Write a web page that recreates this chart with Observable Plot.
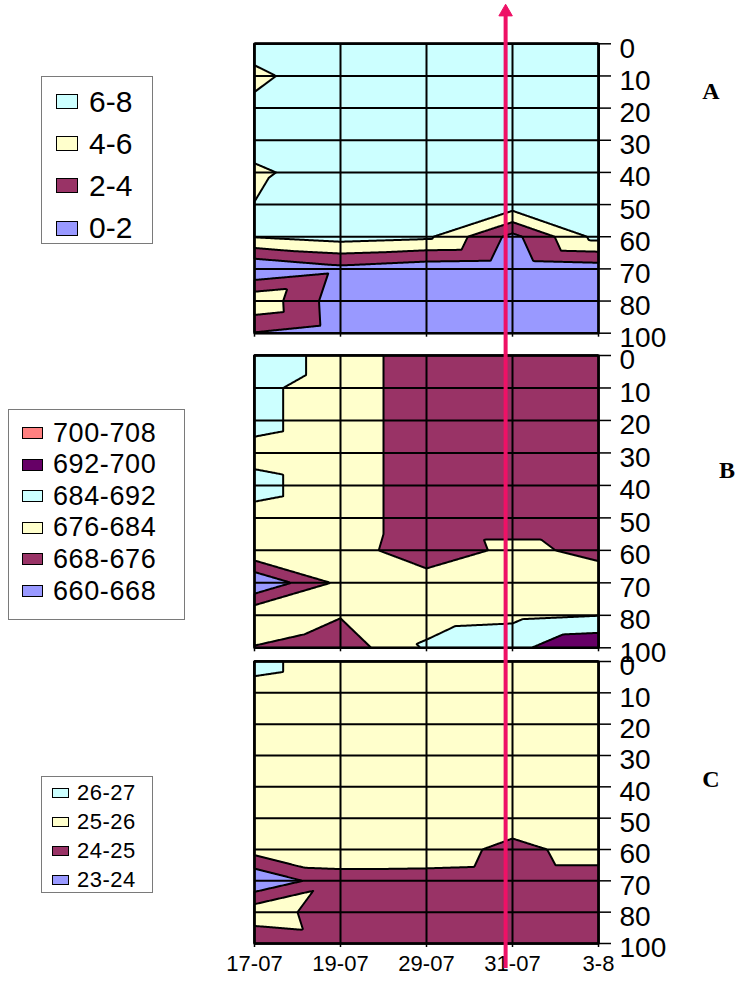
<!DOCTYPE html>
<html><head><meta charset="utf-8">
<script src="https://cdn.jsdelivr.net/npm/d3@7"></script>
<script src="https://cdn.jsdelivr.net/npm/@observablehq/plot@0.6"></script>
<style>
body{margin:0;background:#fff;}
#wrap{position:relative;width:740px;height:986px;overflow:hidden;font-family:"Liberation Sans",Arial,sans-serif;background:#fff;}
#wrap svg{position:absolute;left:0;top:0;}
.legend{position:absolute;border:1.5px solid #7a7a7a;background:#fff;box-sizing:border-box;}
.sw{position:absolute;border:1.4px solid #000;box-sizing:border-box;}
.lt{position:absolute;white-space:nowrap;color:#000;}
.letter{position:absolute;width:40px;text-align:center;font-family:"Liberation Serif","Times New Roman",serif;font-weight:bold;line-height:1;color:#000;}
</style></head>
<body><div id="wrap"></div>
<script>
// ---- categories / tick labels ----
const dates = ["17-07", "19-07", "29-07", "31-07", "3-8"];
const depths = ["0", "10", "20", "30", "40", "50", "60", "70", "80", "100"];

// ---- panel A (rows = depth, cols = dates) ----
const bandsA = ["6-8", "4-6", "2-4", "0-2"];
const thresholdsA = [0, 2, 4, 6];
const gridA = [
  [6.6, 7.0, 7.0, 7.0, 7.0],
  [5.7, 6.9, 7.0, 7.0, 7.0],
  [6.3, 7.0, 7.0, 7.0, 7.0],
  [6.5, 7.0, 7.0, 7.0, 7.0],
  [5.8, 6.6, 7.0, 7.0, 7.0],
  [6.02, 7.0, 7.0, 7.1, 7.0],
  [6.1, 6.85, 6.4, 1.4, 6.7],
  [0.1, 1.4, 0.7, 0.5, 0.9],
  [5.6, 0.8, 0.5, 0.5, 0.5],
  [1.9, 0.9, 0.5, 0.5, 0.5]
];

// ---- panel B ----
const bandsB = ["700-708", "692-700", "684-692", "676-684", "668-676", "660-668"];
const thresholdsB = [660, 668, 676, 684, 692, 700];
const gridB = [
  [690, 680, 672, 672, 672],
  [686, 680, 672, 672, 672],
  [686, 680, 672, 672, 672],
  [682, 680, 672, 672, 672],
  [686, 680, 672, 672, 672],
  [682, 680, 672, 672, 672],
  [683, 680, 671, 678, 674],
  [660.5, 678, 680, 680, 680],
  [683, 676.5, 681, 682, 683.8],
  [675.5, 671, 685, 690, 699]
];

// ---- panel C ----
const bandsC = ["26-27", "25-26", "24-25", "23-24"];
const thresholdsC = [23, 24, 25, 26];
const gridC = [
  [26.3, 25.4, 25.5, 25.5, 25.5],
  [25.66, 25.4, 25.5, 25.5, 25.5],
  [25.5, 25.5, 25.5, 25.5, 25.5],
  [25.5, 25.5, 25.5, 25.5, 25.5],
  [25.5, 25.5, 25.5, 25.5, 25.5],
  [25.5, 25.5, 25.5, 25.5, 25.5],
  [25.42, 25.5, 25.5, 24.73, 25.4],
  [23.1, 24.7, 24.67, 24.6, 24.6],
  [25.65, 24.35, 24.5, 24.5, 24.5],
  [24.17, 24.5, 24.5, 24.5, 24.5]
];

// palette (low band -> high band)
const colors4 = ["#9999FF", "#993366", "#FFFFCC", "#CCFFFF"];
const colors6 = ["#9999FF", "#993366", "#FFFFCC", "#CCFFFF", "#660066", "#FF8080"];

// annotation arrow (x in date-index units, y in page pixels)
const eventLine = [{x: 2.92, y1: 968, y2: 13, head: 11.5}];
const arrowColor = "#EE1166";

// ---- Excel-like surface interpolation: each cell split into two triangles
// along the diagonal with the larger sum ----
function interp(grid) {
  const nx = grid[0].length - 1, ny = grid.length - 1;
  return (x, y) => {
    const i = Math.max(0, Math.min(nx - 1, Math.floor(x)));
    const j = Math.max(0, Math.min(ny - 1, Math.floor(y)));
    const u = x - i, v = y - j;
    const a = grid[j][i], b = grid[j][i + 1], c = grid[j + 1][i], d = grid[j + 1][i + 1];
    if (a + d >= b + c) { // diagonal top-left -> bottom-right
      if (u >= v) return a + (b - a) * u + (d - b) * v;
      return a + (c - a) * v + (d - c) * u;
    } else { // diagonal bottom-left -> top-right
      if (u + v <= 1) return a + (b - a) * u + (c - a) * v;
      return d + (c - d) * (1 - u) + (b - d) * (1 - v);
    }
  };
}

const W = 740, H = 986;
const colIdx = dates.map((d, i) => i);
const rowIdx = depths.map((d, i) => i);

function panel(grid, thresholds, colors, top, bottom, showDates) {
  const marks = [
    Plot.contour({
      value: interp(grid), fill: "value",
      x1: 0, x2: dates.length - 1, y1: 0, y2: depths.length - 1,
      thresholds, stroke: "black", strokeWidth: 2, strokeLinejoin: "round", pixelSize: 1
    }),
    Plot.gridX(colIdx, {stroke: "black", strokeOpacity: 1, strokeWidth: 2}),
    Plot.gridY(rowIdx, {stroke: "black", strokeOpacity: 1, strokeWidth: 2}),
    Plot.frame({stroke: "black", strokeWidth: 2}),
    Plot.axisY(rowIdx, {anchor: "right", tickSize: 12, strokeWidth: 1.5, tickFormat: () => ""}),
    Plot.text(rowIdx, {y: d => d, frameAnchor: "right", dx: 21, dy: 5, textAnchor: "start",
      lineAnchor: "middle", text: i => depths[i], fontSize: 28, fill: "black"}),
    Plot.axisX(colIdx, {anchor: "bottom", tickSize: 4, strokeWidth: 1.5, tickFormat: () => ""})
  ];
  if (showDates) marks.push(
    Plot.text(colIdx, {x: d => d, frameAnchor: "bottom", dy: 12, lineAnchor: "top",
      text: i => dates[i], fontSize: 22, fill: "black"})
  );
  return Plot.plot({
    width: W, height: H,
    marginLeft: 254, marginRight: 142, marginTop: top, marginBottom: H - bottom,
    style: {background: "transparent", fontFamily: "'Liberation Sans', Arial, sans-serif", overflow: "visible"},
    x: {domain: [0, dates.length - 1], axis: null},
    y: {domain: [0, depths.length - 1], reverse: true, axis: null},
    color: {type: "ordinal", domain: thresholds, range: colors},
    marks
  });
}

const wrap = document.getElementById("wrap");
wrap.appendChild(panel(gridA, thresholdsA, colors4, 43.3, 332.7, false));
wrap.appendChild(panel(gridB, thresholdsB, colors6, 355, 647.3, false));
wrap.appendChild(panel(gridC, thresholdsC, colors4, 661, 943, true));

// overlay with the vertical marker arrow
wrap.appendChild(Plot.plot({
  width: W, height: H,
  marginLeft: 254, marginRight: 142, marginTop: 0, marginBottom: 0,
  style: {background: "transparent", overflow: "visible"},
  x: {domain: [0, dates.length - 1], axis: null},
  y: {domain: [0, H], range: [0, H], axis: null},
  marks: [
    Plot.ruleX(eventLine, {x: "x", y1: "y1", y2: "y2", stroke: arrowColor, strokeWidth: 4}),
    Plot.dot(eventLine, {x: "x", y: "head", symbol: "triangle", r: 5, fill: arrowColor, stroke: arrowColor, strokeWidth: 1})
  ]
}));

// ---- legends ----
function legend(labels, cols, cfg) {
  const box = document.createElement("div");
  box.className = "legend";
  Object.assign(box.style, {left: cfg.left + "px", top: cfg.top + "px", width: cfg.w + "px", height: cfg.h + "px"});
  labels.forEach((lab, k) => {
    const cy = cfg.y0 + k * cfg.dy;
    const sw = document.createElement("div");
    sw.className = "sw";
    Object.assign(sw.style, {left: cfg.sx + "px", top: (cy - cfg.sh / 2) + "px", width: cfg.sw + "px", height: cfg.sh + "px", background: cols[cols.length - 1 - k]});
    box.appendChild(sw);
    const t = document.createElement("div");
    t.className = "lt";
    t.textContent = lab;
    Object.assign(t.style, {left: cfg.tx + "px", top: (cy - cfg.fs / 2) + "px", fontSize: cfg.fs + "px", lineHeight: cfg.fs + "px", letterSpacing: (cfg.ls || 0) + "px"});
    box.appendChild(t);
  });
  wrap.appendChild(box);
}
legend(bandsA, colors4, {left: 41, top: 76, w: 112, h: 168, sx: 14, sw: 22, sh: 15, tx: 47, fs: 30, y0: 24.5, dy: 42.2});
legend(bandsB, colors6, {left: 8, top: 409, w: 177, h: 211, sx: 13, sw: 21, sh: 12, tx: 44, fs: 27, ls: 0.6, y0: 23, dy: 31.6});
legend(bandsC, colors4, {left: 41, top: 776, w: 112, h: 117, sx: 10, sw: 17, sh: 10, tx: 35, fs: 22, ls: 0.5, y0: 16, dy: 29});

// ---- panel letters ----
const letters = [{t: "A", cx: 711, cy: 91}, {t: "B", cx: 727, cy: 470}, {t: "C", cx: 711, cy: 779}];
letters.forEach(L => {
  const d = document.createElement("div");
  d.className = "letter";
  d.textContent = L.t;
  Object.assign(d.style, {left: (L.cx - 20) + "px", top: (L.cy - 12) + "px", fontSize: "24px"});
  wrap.appendChild(d);
});
</script>
</body></html>
